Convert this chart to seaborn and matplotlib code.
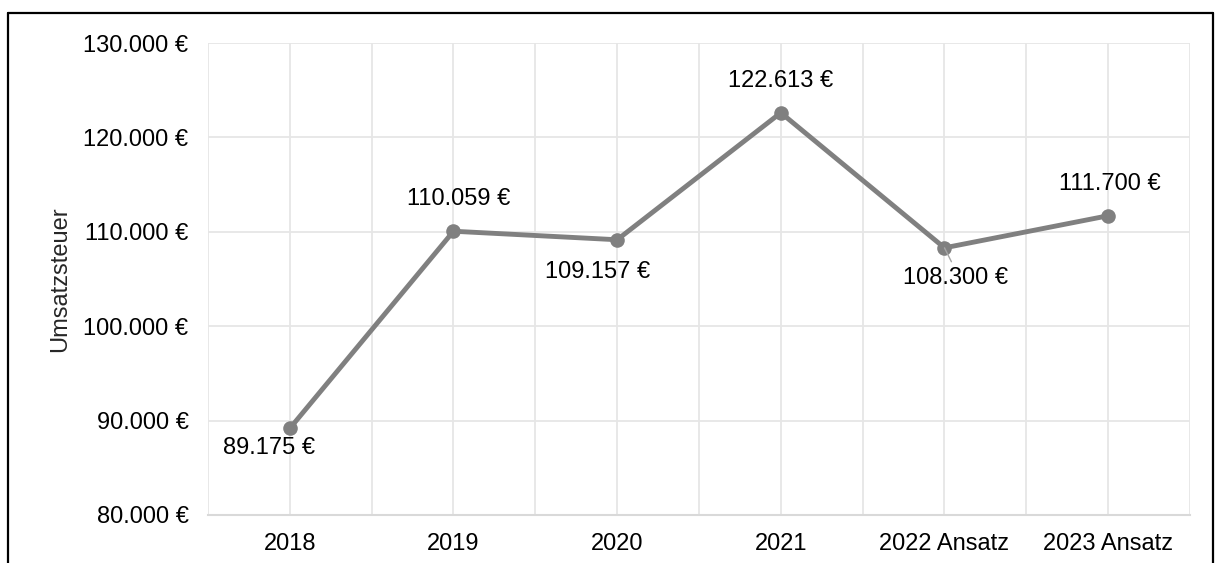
import numpy as np
import pandas as pd
import seaborn as sns
import matplotlib.pyplot as plt
from matplotlib.lines import Line2D
from matplotlib.ticker import FuncFormatter, MultipleLocator

# Daten
jahre = ["2018", "2019", "2020", "2021", "2022 Ansatz", "2023 Ansatz"]
umsatzsteuer = [89175, 110059, 109157, 122613, 108300, 111700]

df = pd.DataFrame({"Jahr": jahre, "Umsatzsteuer": umsatzsteuer})

sns.set_style("white")
plt.rcParams["font.family"] = ["Liberation Sans", "DejaVu Sans"]

fig = plt.figure(figsize=(12.15, 5.63), dpi=100)
ax = fig.add_axes([0.1712, 0.0853, 0.9794 - 0.1712, 0.9236 - 0.0853])

x = np.arange(len(jahre))
sns.lineplot(x=x, y=df["Umsatzsteuer"], ax=ax, color="#808080", linewidth=3.5,
             marker="o", markersize=10.5, markeredgewidth=0, sort=False)

# Datenbeschriftungen (Versatz in Punkten, wie in Excel manuell verschoben)
fmt = lambda v: f"{v:,.0f} €".replace(",", ".")
offsets = [(-15, -14), (4, 23), (-14, -23), (0, 23), (8, -22), (1, 23)]
for i, v in enumerate(umsatzsteuer):
    ax.annotate(fmt(v), (i, v), xytext=offsets[i], textcoords="offset points",
                ha="center", va="center", fontsize=17, color="black")
# kurze Führungslinie bei 2022 Ansatz
ax.annotate("", (4, umsatzsteuer[4]), xytext=(5, -10), textcoords="offset points",
            arrowprops=dict(arrowstyle="-", color="#a6a6a6", lw=1, shrinkA=0, shrinkB=0))

ax.set_xlim(-0.5, 5.5)
ax.set_ylim(80000, 130000)
ax.set_xticks(x)
ax.set_xticklabels(jahre)
ax.xaxis.set_minor_locator(MultipleLocator(0.5))
ax.yaxis.set_major_locator(MultipleLocator(10000))
ax.yaxis.set_major_formatter(FuncFormatter(lambda v, _: fmt(v)))

ax.grid(True, which="both", axis="x", color="#e6e6e6", linewidth=1.3)
ax.grid(True, which="major", axis="y", color="#e6e6e6", linewidth=1.3)
ax.set_axisbelow(True)
ax.tick_params(axis="both", which="both", length=0, labelsize=17, colors="black")
ax.tick_params(axis="y", pad=14)
ax.tick_params(axis="x", pad=13)

for s in ["top", "right", "left"]:
    ax.spines[s].set_visible(False)
ax.spines["bottom"].set_color("#d9d9d9")
ax.spines["bottom"].set_linewidth(1.5)

ax.set_xlabel("")
ax.set_ylabel("Umsatzsteuer", fontsize=17, labelpad=9)

# Rahmen um die Grafik
lx, ty, rx = 8 / 1215, 1 - 13 / 563, 1213 / 1215
for xs, ys in [([lx, lx], [0, ty]), ([lx, rx], [ty, ty]), ([rx, rx], [ty, 0])]:
    fig.add_artist(Line2D(xs, ys, color="black", linewidth=1.6, transform=fig.transFigure))

fig.savefig("out.png", dpi=100)
